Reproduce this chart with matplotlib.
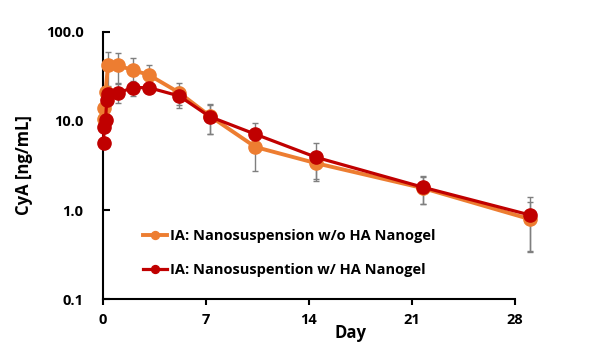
import matplotlib
matplotlib.use("Agg")
import matplotlib.pyplot as plt
import numpy as np

plt.rcParams['font.family'] = ['Open Sans', 'DejaVu Sans']
plt.rcParams['font.weight'] = 'bold'

# data
days_a = [0.04, 0.08, 0.17, 0.33, 1, 2, 3, 5, 7, 10, 14, 21, 28]
conc_a = [10.4, 13.9, 21.0, 42.0, 42.0, 37.0, 33.0, 20.8, 11.4, 5.1, 3.35, 1.76, 0.79]
err_a = [0, 0, 0, 17.0, 15.5, 13.6, 9.7, 5.7, 4.2, 2.37, 1.14, 0.6, 0.45]

days_b = [0.04, 0.08, 0.17, 0.25, 0.33, 1, 2, 3, 5, 7, 10, 14, 21, 28]
conc_b = [5.7, 8.6, 10.2, 17.2, 20.1, 20.8, 23.7, 23.7, 19.1, 11.2, 7.1, 3.9, 1.8, 0.88]
err_b = [0.4, 0, 0, 0, 0, 5.0, 4.6, 3.0, 5.2, 4.0, 2.3, 1.8, 0.63, 0.53]

label_a = "IA: Nanosuspension w/o HA Nanogel"
label_b = "IA: Nanosuspention w/ HA Nanogel"
xtick_labels = [0, 7, 14, 21, 28]
ytick_vals = [0.1, 1, 10, 100]
ytick_labels = ["0.1", "1.0", "10.0", "100.0"]

c_a = "#ED7D31"
c_b = "#C00000"
XMAX = 27.0

fig = plt.figure(figsize=(6.02, 3.47), dpi=100)
ax = fig.add_axes([0.171, 0.138, 0.855 - 0.171, 0.908 - 0.138])

ax.errorbar(days_a, conc_a, yerr=err_a, fmt='none', ecolor='#7F7F7F', elinewidth=1,
            capsize=2.5, capthick=1, zorder=2, clip_on=False)
ax.errorbar(days_b, conc_b, yerr=err_b, fmt='none', ecolor='#7F7F7F', elinewidth=1,
            capsize=2.5, capthick=1, zorder=2, clip_on=False)
ax.plot(days_a, conc_a, '-o', color=c_a, lw=2.8, ms=9.5, label=label_a, zorder=3, clip_on=False)
ax.plot(days_b, conc_b, '-o', color=c_b, lw=2.3, ms=9.5, label=label_b, zorder=4, clip_on=False)

ax.set_yscale('log')
ax.set_ylim(0.1, 100)
ax.set_xlim(0, XMAX)
ax.set_yticks(ytick_vals)
ax.set_yticklabels(ytick_labels)
ax.yaxis.set_minor_locator(matplotlib.ticker.NullLocator())
ax.set_xticks(np.array(xtick_labels) * XMAX / 28.0)
ax.set_xticklabels([str(v) for v in xtick_labels])

for s in ['top', 'right']:
    ax.spines[s].set_visible(False)
for s in ['left', 'bottom']:
    ax.spines[s].set_linewidth(1.5)
    ax.spines[s].set_color('black')

ax.tick_params(axis='y', direction='in', length=5, width=1.5, labelsize=10.5, pad=14)
ax.tick_params(axis='x', direction='out', length=4, width=1.5, labelsize=10.5, pad=6)
for lab in ax.get_xticklabels() + ax.get_yticklabels():
    lab.set_fontweight('bold')

ax.set_ylabel("CyA [ng/mL]", fontsize=12, fontweight='bold')
ax.yaxis.set_label_coords(-0.17, 0.5)
ax.set_xlabel("Day", fontsize=12, fontweight='bold')
ax.xaxis.set_label_coords(0.6, -0.095)

leg = ax.legend(loc='upper left', bbox_to_anchor=(0.084, 0.285), frameon=False,
                prop={'size': 10.5, 'weight': 'bold'}, markerscale=0.6,
                handlelength=1.6, handletextpad=0.2, labelspacing=1.4, borderaxespad=0)

fig.savefig("out.png", dpi=100)
